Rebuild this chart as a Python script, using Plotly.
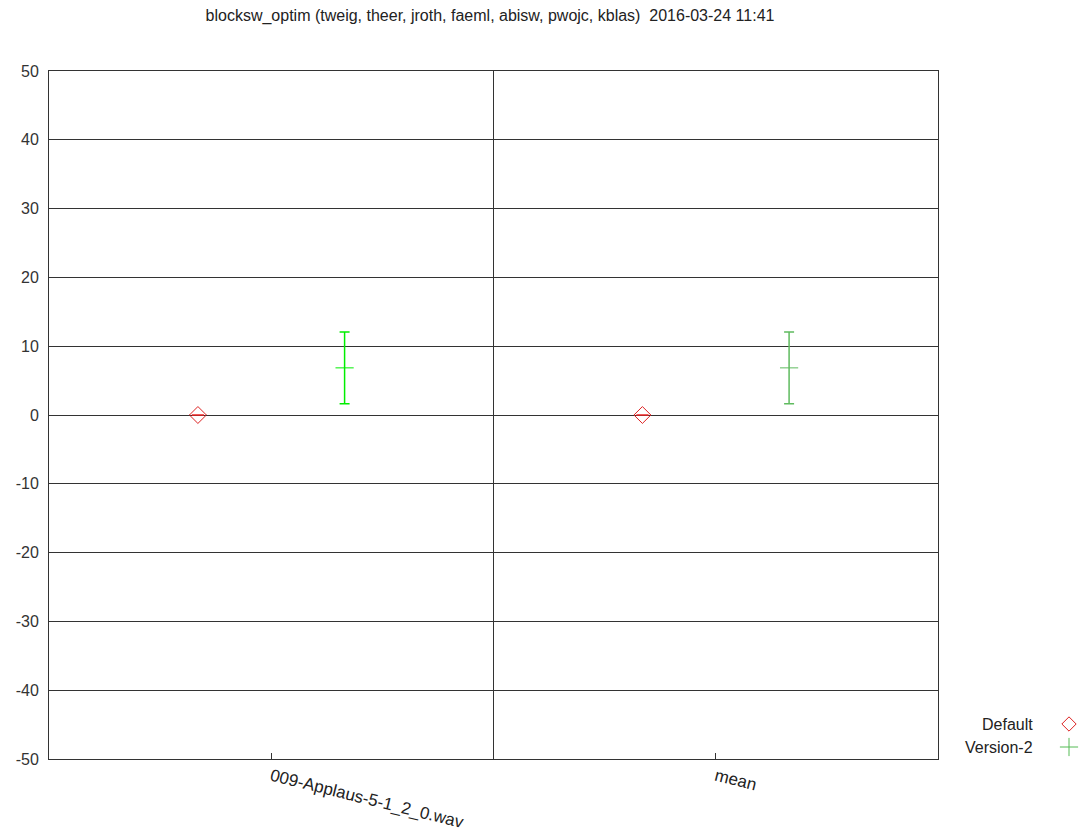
import plotly.graph_objects as go

# Data
categories = ["009-Applaus-5-1_2_0.wav", "mean"]
default_vals = [0.0, 0.0]
default_err = [0.0, 0.0]
v2_vals = [6.85, 6.85]
v2_err = [5.2, 5.2]
v2_colors = ["#00ee00", "#5fbb5f"]
y_ticks = [50, 40, 30, 20, 10, 0, -10, -20, -30, -40, -50]
y_tick_text = [str(v) for v in y_ticks]

W, H = 1083, 829
ML, MT, MB = 49, 71, 70
PLOT_W = W - ML
PLOT_H = H - MT - MB
MAIN_RIGHT = 938  # right edge of the data area in pixels

offset = 0.165
xs = list(range(len(categories)))

fig = go.Figure()

# Default series: open red diamonds
fig.add_trace(go.Scatter(
    x=[x - offset for x in xs], y=default_vals,
    mode="markers",
    marker=dict(symbol="diamond-open", size=13, color="#dd2222", line=dict(width=1)),
    error_y=dict(type="data", array=default_err, color="#ee2222", thickness=1, width=6),
    showlegend=False, cliponaxis=False,
))

# Version-2 series: mean with error bars
for i, x in enumerate(xs):
    fig.add_trace(go.Scatter(
        x=[x + offset], y=[v2_vals[i]],
        mode="markers",
        marker=dict(symbol="line-ew", size=13, line=dict(color=v2_colors[i], width=1)),
        error_y=dict(type="data", array=[v2_err[i]], color=v2_colors[i], thickness=1.5, width=5),
        showlegend=False,
    ))

# Legend: key symbols on a small side axis in pixel units, labels in paper units
legend_names = ["Default", "Version-2"]
legend_symbols = ["diamond-open", "cross-thin-open"]
legend_sizes = [11, 13]
legend_colors = ["#dd2222", "#55bb55"]
legend_y = [724, 747]
KEY_LEFT = 1055
for name, sym, sz, col, ly in zip(legend_names, legend_symbols, legend_sizes, legend_colors, legend_y):
    fig.add_trace(go.Scatter(
        x=[1069], y=[ly], xaxis="x2", yaxis="y2", mode="markers",
        marker=dict(symbol=sym, size=sz, color=col, line=dict(color=col, width=1)),
        showlegend=False, hoverinfo="skip", cliponaxis=False,
    ))
    fig.add_annotation(
        x=(1035 - ML) / PLOT_W, y=(H - MB - ly) / PLOT_H, xref="paper", yref="paper",
        text=name, showarrow=False, xanchor="right", yanchor="middle",
        font=dict(family="Liberation Sans, Arial, sans-serif", size=16, color="#222222"),
    )

# Divider between categories
fig.add_shape(type="line", x0=0.5, x1=0.5, y0=0, y1=1, xref="x", yref="y domain",
              line=dict(color="#333333", width=1))

axis_font = dict(family="Liberation Sans, Arial, sans-serif", size=16, color="#333333")

fig.update_layout(
    width=W, height=H,
    margin=dict(l=ML, r=0, t=MT, b=MB, autoexpand=False),
    paper_bgcolor="white", plot_bgcolor="white",
    title=dict(
        text="blocksw_optim (tweig, theer, jroth, faeml, abisw, pwojc, kblas)  2016-03-24 11:41",
        x=(490 - ML) / PLOT_W, xref="paper", xanchor="center", y=1 - 15 / H, yanchor="middle",
        font=dict(family="Liberation Sans, Arial, sans-serif", size=16, color="#222222"),
    ),
    xaxis=dict(
        domain=[0, (MAIN_RIGHT - ML) / PLOT_W],
        range=[-0.5, 1.5], tickvals=xs, ticktext=categories,
        tickangle=14, ticks="inside", ticklen=6, tickcolor="#333333",
        showgrid=False, zeroline=False, automargin=False,
        showline=True, linecolor="#333333", linewidth=1, mirror=True,
        tickfont=dict(family="Liberation Sans, Arial, sans-serif", size=17, color="#222222"),
    ),
    yaxis=dict(
        range=[-50, 50], tickvals=y_ticks, ticktext=y_tick_text, ticks="",
        showgrid=True, gridcolor="#333333", gridwidth=1,
        zeroline=False, automargin=False,
        showline=True, linecolor="#333333", linewidth=1, mirror=True,
        tickfont=axis_font, ticklabelstandoff=6,
    ),
    xaxis2=dict(domain=[(KEY_LEFT - ML) / PLOT_W, 1], range=[KEY_LEFT, W],
                visible=False, fixedrange=True, anchor="y2"),
    yaxis2=dict(domain=[0, 1], range=[H - MB, MT], visible=False, fixedrange=True,
                anchor="x2"),
    showlegend=False,
)

fig.write_html("out.html")
